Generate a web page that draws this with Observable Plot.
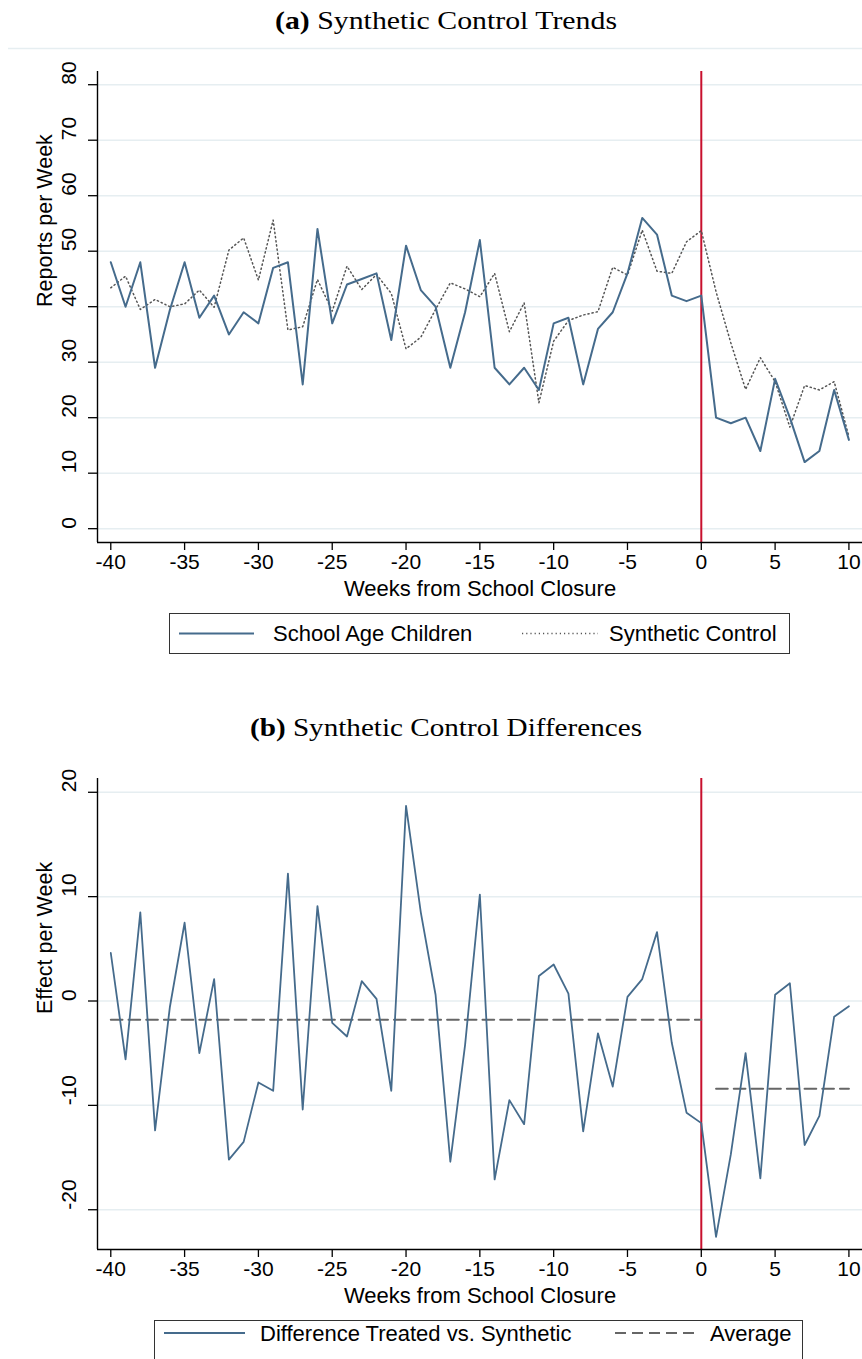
<!DOCTYPE html>
<html><head><meta charset="utf-8">
<script src="https://cdn.jsdelivr.net/npm/d3@7"></script>
<script src="https://cdn.jsdelivr.net/npm/@observablehq/plot@0.6"></script>
<style>
body{margin:0;background:#fff;}
#page{position:relative;width:862px;height:1359px;overflow:hidden;background:#fff;font-family:"Liberation Sans",Arial,sans-serif;}
.legend{position:absolute;border:1px solid #333;box-sizing:border-box;background:#fff;}
</style></head><body><div id="page"></div>
<script>
// ---- data ----
const weeks = [-40,-39,-38,-37,-36,-35,-34,-33,-32,-31,-30,-29,-28,-27,-26,-25,-24,-23,-22,-21,-20,-19,-18,-17,-16,-15,-14,-13,-12,-11,-10,-9,-8,-7,-6,-5,-4,-3,-2,-1,0,1,2,3,4,5,6,7,8,9,10];
const schoolAge = [48,40,48,29,39.4,48,38,42,35,39,37,47,48,26,54,37,44,45,46,34,51,43,40,29,39,52,29,26,29,25,37,38,26,36,39,46,56,53,42,41,42,20,19,20,14,27,20,12,14,25,16];
const synthetic = [43.4,45.5,39.5,41.3,40,40.5,43,39.9,50.2,52.4,44.8,55.6,35.8,36.4,44.9,39.2,47.3,43.1,45.8,42.4,32.4,34.5,39.5,44.3,43.2,41.8,46,35.5,40.7,22.7,33.8,37.5,38.5,39.1,47.1,45.7,53.8,46.4,46,51.7,53.7,42.7,33.5,25.1,30.8,26.5,18.3,25.8,25,26.5,16.6];
const difference = [4.6,-5.6,8.5,-12.4,-0.6,7.5,-5.0,2.1,-15.2,-13.5,-7.8,-8.6,12.2,-10.4,9.1,-2.1,-3.4,1.9,0.2,-8.6,18.7,8.5,0.6,-15.4,-4.2,10.2,-17.1,-9.5,-11.8,2.4,3.5,0.7,-12.5,-3.1,-8.2,0.4,2.1,6.6,-4.0,-10.7,-11.7,-22.6,-14.7,-5.0,-17.0,0.6,1.7,-13.8,-11.0,-1.5,-0.5];
const averagePeriods = ["pre","post"];
const averageStart = [-40, 1];
const averageEnd = [0, 10];
const averageValue = [-1.8, -8.4];
const xTicks = [-40,-35,-30,-25,-20,-15,-10,-5,0,5,10];
const yTicksA = [0,10,20,30,40,50,60,70,80];
const yTicksB = [-20,-10,0,10,20];
const titleA = ["(a)", " Synthetic Control Trends"];
const titleB = ["(b)", " Synthetic Control Differences"];
const xLabel = "Weeks from School Closure";
const yLabelA = "Reports per Week";
const yLabelB = "Effect per Week";
const legendA = ["School Age Children", "Synthetic Control"];
const legendB = ["Difference Treated vs. Synthetic", "Average"];

// ---- styling ----
const BLUE = "#456b8c";
const RED = "#c8102e";
const GRID = "#e6eef1";
const DOT = "#555";
const xDomain = [-40.9, 10.92];

const rows = weeks.map((w, i) => ({week: w, school: schoolAge[i], synth: synthetic[i], diff: difference[i]}));
const avgRows = [];
averagePeriods.forEach((p, i) => {
  avgRows.push({period: p, week: averageStart[i], value: averageValue[i]});
  avgRows.push({period: p, week: averageEnd[i], value: averageValue[i]});
});

function panel({yDomain, yTicks, yLabel, marks}) {
  return Plot.plot({
    width: 862, height: 546,
    marginLeft: 97, marginRight: 0, marginTop: 15, marginBottom: 60,
    style: {fontFamily: "'Liberation Sans', Arial, sans-serif", background: "transparent", overflow: "visible", color: "#000"},
    x: {domain: xDomain},
    y: {domain: yDomain},
    marks: [
      Plot.ruleY(yTicks, {stroke: GRID, strokeWidth: 1.5}),
      Plot.ruleX([0], {stroke: RED, strokeWidth: 2}),
      ...marks,
      Plot.ruleX([xDomain[0]], {stroke: "#000", strokeWidth: 1.4}),
      Plot.ruleY([yDomain[0]], {stroke: "#000", strokeWidth: 1.4}),
      Plot.axisX({ticks: xTicks, tickSize: 8, tickPadding: 4, tickFormat: d => String(d), fontSize: 21, label: null, stroke: "#000", strokeWidth: 1.3}),
      Plot.axisY({ticks: yTicks, tickSize: 9, tickFormat: () => "", label: null, stroke: "#000", strokeWidth: 1.3}),
      Plot.text(yTicks, {y: d => d, frameAnchor: "left", text: d => String(d), rotate: -90, dx: -28, fontSize: 21, fill: "#000"}),
      Plot.text([yLabel], {frameAnchor: "left", lineAnchor: "middle", rotate: -90, dx: -52, fontSize: 21.5, fill: "#000"}),
      Plot.text([xLabel], {frameAnchor: "bottom", lineAnchor: "middle", dy: 46, fontSize: 22, fill: "#000"})
    ]
  });
}

const page = document.getElementById("page");
const NS = "http://www.w3.org/2000/svg";
function el(tag, attrs, parent) {
  const e = document.createElementNS(NS, tag);
  for (const k in attrs) e.setAttribute(k, attrs[k]);
  if (parent) parent.appendChild(e);
  return e;
}

// header svg (titles and separator)
const head = el("svg", {width: 862, height: 760, style: "position:absolute;left:0;top:0;pointer-events:none"});
function title(parts, x, y, len) {
  const t = el("text", {x, y, textLength: len, lengthAdjust: "spacingAndGlyphs", "font-family": "'Liberation Serif', 'DejaVu Serif', serif", "font-size": 26, fill: "#000"}, head);
  const b = el("tspan", {"font-weight": "bold"}, t); b.textContent = parts[0];
  const r = el("tspan", {}, t); r.textContent = parts[1];
}
title(titleA, 275, 29, 342);
title(titleB, 250, 736, 392);
el("line", {x1: 8, x2: 862, y1: 48.5, y2: 48.5, stroke: GRID, "stroke-width": 1.5}, head);

// panel a
const pa = panel({
  yDomain: [-2.49, 82.38], yTicks: yTicksA, yLabel: yLabelA,
  marks: [
    Plot.line(rows, {x: "week", y: "synth", stroke: DOT, strokeWidth: 1.5, strokeDasharray: "1.2,3"}),
    Plot.line(rows, {x: "week", y: "school", stroke: BLUE, strokeWidth: 2})
  ]
});
pa.style.position = "absolute"; pa.style.left = "0px"; pa.style.top = "56px";
page.appendChild(pa);

// panel b
const pb = panel({
  yDomain: [-23.81, 21.32], yTicks: yTicksB, yLabel: yLabelB,
  marks: [
    Plot.line(avgRows, {x: "week", y: "value", z: "period", stroke: "#666", strokeWidth: 2, strokeDasharray: "11.7,6"}),
    Plot.line(rows, {x: "week", y: "diff", stroke: BLUE, strokeWidth: 1.8})
  ]
});
pb.style.position = "absolute"; pb.style.left = "0px"; pb.style.top = "763px";
page.appendChild(pb);
page.appendChild(head);

// legends
function legend(left, top, width, height, items) {
  const d = document.createElement("div");
  d.className = "legend";
  Object.assign(d.style, {left: left + "px", top: top + "px", width: width + "px", height: height + "px"});
  const s = el("svg", {width: width - 2, height: 38, style: "position:absolute;left:0;top:0;overflow:visible"});
  for (const it of items) {
    el("line", {x1: it.x1, x2: it.x2, y1: it.y, y2: it.y, stroke: it.stroke, "stroke-width": it.sw, "stroke-dasharray": it.dash || "none"}, s);
    const t = el("text", {x: it.tx, y: it.y, "dominant-baseline": "central", "font-family": "'Liberation Sans', Arial, sans-serif", "font-size": 22, fill: "#000"}, s);
    t.textContent = it.label;
  }
  d.appendChild(s);
  page.appendChild(d);
}
legend(169, 613, 621, 41, [
  {x1: 9, x2: 84, y: 19.5, stroke: BLUE, sw: 2, tx: 103, label: legendA[0]},
  {x1: 352, x2: 428, y: 19.5, stroke: DOT, sw: 1.3, dash: "1.2,3", tx: 439, label: legendA[1]}
]);
legend(154, 1320, 649, 42, [
  {x1: 9, x2: 90, y: 12, stroke: BLUE, sw: 2, tx: 105, label: legendB[0]},
  {x1: 460, x2: 543, y: 12, stroke: "#666", sw: 2, dash: "11,6", tx: 555, label: legendB[1]}
]);
</script></body></html>
